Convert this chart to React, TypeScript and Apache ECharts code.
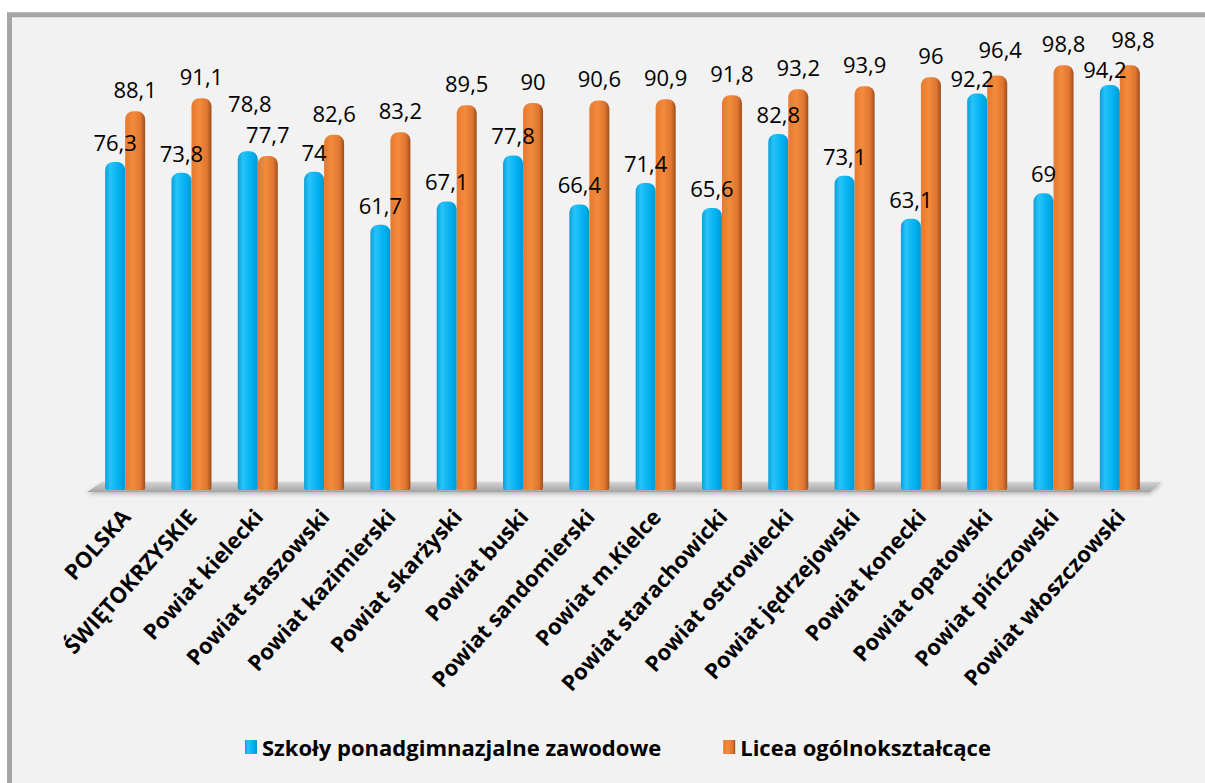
import React, { useEffect, useRef } from "react";
import * as echarts from "echarts";

const categories = [
  "POLSKA",
  "ŚWIĘTOKRZYSKIE",
  "Powiat kielecki",
  "Powiat staszowski",
  "Powiat kazimierski",
  "Powiat skarżyski",
  "Powiat buski",
  "Powiat sandomierski",
  "Powiat m.Kielce",
  "Powiat starachowicki",
  "Powiat ostrowiecki",
  "Powiat jędrzejowski",
  "Powiat konecki",
  "Powiat opatowski",
  "Powiat pińczowski",
  "Powiat włoszczowski",
];

const vocational = [76.3, 73.8, 78.8, 74, 61.7, 67.1, 77.8, 66.4, 71.4, 65.6, 82.8, 73.1, 63.1, 92.2, 69, 94.2];
const lyceums = [88.1, 91.1, 77.7, 82.6, 83.2, 89.5, 90, 90.6, 90.9, 91.8, 93.2, 93.9, 96, 96.4, 98.8, 98.8];

const seriesNames = ["Szkoły ponadgimnazjalne zawodowe", "Licea ogólnokształcące"];

const yMin = 0;
const yMax = 100;

const FONT = "'Open Sans', 'Noto Sans', sans-serif";

export default function App() {
  const ref = useRef<HTMLDivElement>(null);

  useEffect(() => {
    const el = ref.current!;
    const chart = echarts.init(el, null, { renderer: "svg" });
    const W = 1205;
    const H = 783;
    const gridLeft = 92;
    const gridRight = 52;
    const gridTop = 60;
    const gridBottom = 293;

    const fmt = (p: any) => String(p.value).replace(".", ",");

    const blueGrad = new echarts.graphic.LinearGradient(0, 0, 1, 0, [
      { offset: 0, color: "#0a9fd8" },
      { offset: 0.25, color: "#28c3f8" },
      { offset: 0.7, color: "#00b0f0" },
      { offset: 1, color: "#0098cf" },
    ]);
    const orangeGrad = new echarts.graphic.LinearGradient(0, 0, 1, 0, [
      { offset: 0, color: "#e57a30" },
      { offset: 0.4, color: "#f38a3c" },
      { offset: 0.78, color: "#e07530" },
      { offset: 1, color: "#9c4e1b" },
    ]);

    const option: any = {
      animation: false,
      backgroundColor: "#ffffff",
      textStyle: { fontFamily: FONT },
      grid: { left: gridLeft, right: gridRight, top: gridTop, bottom: gridBottom, containLabel: false },
      legend: {
        top: 731,
        left: 240,
        itemWidth: 12,
        itemHeight: 14,
        itemGap: 62,
        icon: "rect",
        textStyle: { fontFamily: FONT, fontWeight: "bold", fontSize: 22, color: "#000" },
        data: seriesNames,
      },
      xAxis: {
        type: "category",
        data: categories,
        axisLine: { show: false },
        axisTick: { show: false },
        axisLabel: {
          interval: 0,
          rotate: 48,
          margin: 22,
          fontFamily: FONT,
          fontWeight: "bold",
          fontSize: 22,
          color: "#000",
        },
      },
      yAxis: {
        type: "value",
        min: yMin,
        max: yMax,
        show: false,
        splitLine: { show: false },
      },
      series: [
        {
          name: seriesNames[0],
          type: "bar",
          data: vocational,
          barWidth: 20,
          barGap: "0%",
          itemStyle: { color: blueGrad, borderRadius: [8, 8, 2, 2] },
          label: {
            show: true,
            position: "top",
            distance: 9,
            offset: [-8, 0],
            formatter: fmt,
            fontFamily: FONT,
            fontSize: 22,
            color: "#000",
          },
          labelLayout: (p: any) => {
            const i = p.dataIndex;
            const diff = lyceums[i] - vocational[i];
            if (diff < 0) return { dy: -28, dx: 2 };
            if (diff < 6) return { dy: 4, dx: -5 };
            return {};
          },
        },
        {
          name: seriesNames[1],
          type: "bar",
          data: lyceums,
          barWidth: 20,
          barGap: "0%",
          itemStyle: { color: orangeGrad, borderRadius: [8, 8, 2, 2] },
          label: {
            show: true,
            position: "top",
            distance: 11,
            offset: [5, 0],
            formatter: fmt,
            fontFamily: FONT,
            fontSize: 22,
            color: "#000",
          },
          labelLayout: (p: any) => {
            const i = p.dataIndex;
            const diff = lyceums[i] - vocational[i];
            if (diff >= 0 && diff < 6) return { dy: -4, dx: 3 };
            return {};
          },
        },
      ],
    };

    chart.setOption(option);

    const y0 = chart.convertToPixel({ yAxisIndex: 0 }, yMin) as number;
    const xL = gridLeft;
    const xR = W - gridRight;

    chart.setOption({
      graphic: [
        {
          type: "rect",
          silent: true,
          z: -10,
          shape: { x: 9.5, y: 14.8, width: W + 200, height: H + 200 },
          style: { fill: "#f2f2f2", stroke: "#a6a6a6", lineWidth: 5 },
        },
        {
          type: "polygon",
          silent: true,
          z: 1,
          shape: {
            points: [
              [xL + 10, y0 - 8],
              [xR + 9, y0 - 8],
              [xR - 3, y0 + 2],
              [xL - 5, y0 + 2],
            ],
          },
          style: {
            fill: new echarts.graphic.LinearGradient(0, 0, 0, 1, [
              { offset: 0, color: "#d4d4d4" },
              { offset: 1, color: "#a3a3a3" },
            ]),
            shadowBlur: 4,
            shadowColor: "rgba(0,0,0,0.25)",
            shadowOffsetY: 2,
          },
        },
      ],
    });

    return () => chart.dispose();
  }, []);

  return <div ref={ref} style={{ position: "absolute", left: 0, top: 0, width: 1205, height: 783 }} />;
}
